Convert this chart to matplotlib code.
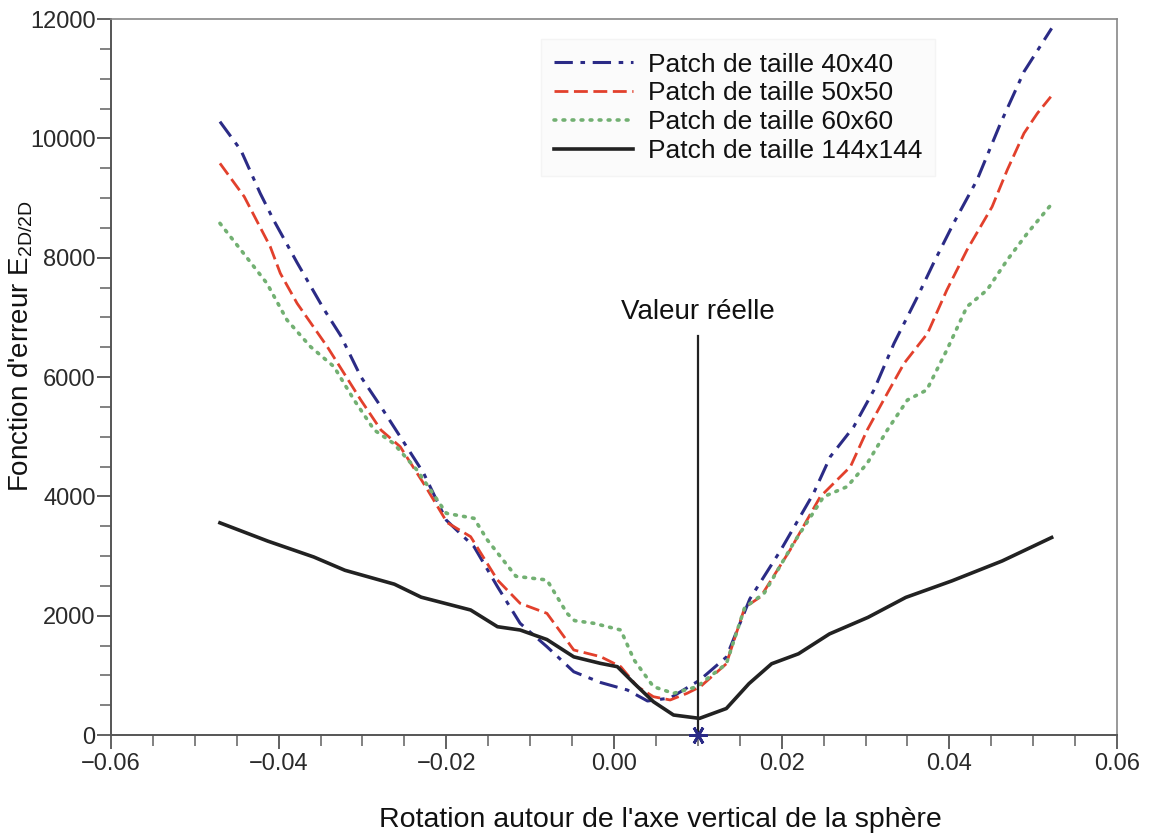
import matplotlib
matplotlib.use("Agg")
from matplotlib import pyplot as plt

plt.rcParams['font.family'] = ['Liberation Sans', 'DejaVu Sans']
plt.rcParams['mathtext.default'] = 'regular'

# courbes d'erreur relevees pour chaque taille de patch
x_40 = [-0.047, -0.0445, -0.0422, -0.0406, -0.0378, -0.0346, -0.0326, -0.0302, -0.0278, -0.0255,
        -0.0227, -0.020, -0.0167, -0.0139, -0.0112, -0.008, -0.0048, -0.0016, 0.0016, 0.004,
        0.0067, 0.0102, 0.0134, 0.0162, 0.0199, 0.0238, 0.0258, 0.0286, 0.031, 0.0334,
        0.0362, 0.0381, 0.0405, 0.0433, 0.0461, 0.0489, 0.0522]
y_40 = [10280, 9800, 9079, 8631, 7917, 7136, 6694, 6006, 5502, 5000,
        4386, 3600, 3157, 2486, 1872, 1480, 1060, 880, 754, 570,
        620, 917, 1306, 2280, 3101, 4050, 4665, 5168, 5782, 6564,
        7346, 7905, 8576, 9302, 10252, 11117, 11844]

x_50 = [-0.047, -0.0441, -0.041, -0.0398, -0.0378, -0.0342, -0.0322, -0.0302, -0.0278, -0.0255,
        -0.0225, -0.0199, -0.0171, -0.0139, -0.0112, -0.008, -0.0048, -0.0016, 0.0008, 0.0028,
        0.0047, 0.0067, 0.0087, 0.0103, 0.0134, 0.0156, 0.0175, 0.021, 0.0246, 0.0282,
        0.0302, 0.0326, 0.0346, 0.0374, 0.0397, 0.0421, 0.0451, 0.0469, 0.0489, 0.0505, 0.0521]
y_50 = [9581, 9022, 8184, 7738, 7235, 6508, 6062, 5615, 5112, 4832,
        4170, 3560, 3324, 2598, 2207, 2039, 1425, 1313, 1145, 810,
        642, 587, 698, 810, 1194, 2139, 2318, 3101, 3994, 4497,
        5112, 5727, 6229, 6732, 7458, 8129, 8854, 9469, 10085, 10420, 10698]

x_60 = [-0.047, -0.0445, -0.0414, -0.039, -0.0362, -0.0334, -0.031, -0.0286, -0.0263, -0.0235,
        -0.020, -0.0167, -0.0151, -0.0117, -0.008, -0.0056, -0.0047, -0.0024, 0.0008, 0.0024,
        0.0047, 0.0071, 0.0099, 0.0134, 0.0156, 0.0179, 0.0214, 0.025, 0.0278, 0.0302,
        0.0326, 0.035, 0.0373, 0.0397, 0.0421, 0.0445, 0.0469, 0.0493, 0.0521]
y_60 = [8576, 8129, 7570, 6955, 6508, 6173, 5615, 5112, 4888, 4441,
        3716, 3632, 3268, 2660, 2598, 2039, 1917, 1872, 1760, 1257,
        810, 698, 810, 1194, 2139, 2374, 3212, 3994, 4162, 4553,
        5112, 5615, 5782, 6453, 7179, 7458, 7961, 8409, 8883]

x_144 = [-0.047, -0.0413, -0.0358, -0.0321, -0.0262, -0.023, -0.0171, -0.0139, -0.0112, -0.008,
         -0.0048, -0.0016, 0.0004, 0.0024, 0.0047, 0.0071, 0.0102, 0.0134, 0.0161, 0.0188,
         0.022, 0.0257, 0.0303, 0.0348, 0.0403, 0.0463, 0.0522]
y_144 = [3556, 3250, 2983, 2761, 2528, 2310, 2095, 1815, 1760, 1600,
         1310, 1200, 1145, 866, 558, 335, 279, 444, 861, 1194,
         1361, 1694, 1972, 2306, 2583, 2917, 3310]

labels = ['Patch de taille 40x40', 'Patch de taille 50x50',
          'Patch de taille 60x60', 'Patch de taille 144x144']

x_true = 0.01
y_true_top = 6680

fig = plt.figure(figsize=(11.51, 8.34), dpi=100)
ax = fig.add_axes([0.0964, 0.1187, 0.8741, 0.8585])

ax.plot(x_40, y_40, color='#2b2b86', lw=2.2, dashes=(6, 2.5, 1.5, 2.5), label=labels[0])
ax.plot(x_50, y_50, color='#e2402c', lw=2.0, dashes=(5, 2), label=labels[1])
ax.plot(x_60, y_60, color='#72b072', lw=2.6, dashes=(0.5, 2.0), dash_capstyle='round', label=labels[2])
ax.plot(x_144, y_144, color='#222222', lw=2.6, label=labels[3])

# valeur reelle de la rotation
ax.plot([x_true, x_true], [0, y_true_top], color='#222222', lw=1.6)
ax.plot([x_true], [0], marker=(6, 2, 90), ms=13, mew=2, color='#2b2b86', clip_on=False, zorder=5)
ax.text(x_true, 6880, 'Valeur réelle', ha='center', va='bottom', fontsize=20, color='#111111')

ax.set_xlim(-0.06, 0.06)
ax.set_ylim(0, 12000)
ax.set_xticks([-0.06, -0.04, -0.02, 0.0, 0.02, 0.04, 0.06])
ax.set_xticklabels(['\u22120.06', '\u22120.04', '\u22120.02', '0.00', '0.02', '0.04', '0.06'])
ax.set_yticks([0, 2000, 4000, 6000, 8000, 10000, 12000])
ax.set_xticks([i * 0.005 - 0.06 for i in range(25)], minor=True)
ax.set_yticks([i * 500 for i in range(25)], minor=True)

ax.tick_params(which='major', direction='out', length=10, width=1.3, color='#555555',
               labelsize=17, labelcolor='#2a2a2a')
ax.tick_params(which='minor', direction='out', length=8, width=1.3, color='#777777')
ax.tick_params(axis='y', pad=1)
ax.tick_params(axis='x', pad=3)

for side in ['left', 'bottom']:
    ax.spines[side].set_color('#555555')
    ax.spines[side].set_linewidth(1.4)
for side in ['top', 'right']:
    ax.spines[side].set_color('#888888')
    ax.spines[side].set_linewidth(1.2)

ax.set_xlabel("Rotation autour de l'axe vertical de la sphère", fontsize=20.5, color='#111111')
ax.xaxis.set_label_coords(0.546, -0.100)
ax.set_ylabel("Fonction d'erreur E$_{2D/2D}$", fontsize=20, color='#111111')
ax.yaxis.set_label_coords(-0.075, 0.543)

leg = ax.legend(loc='upper left', bbox_to_anchor=(0.414, 0.99), fontsize=19,
                handlelength=3.0, handletextpad=0.55, labelspacing=0.18,
                frameon=True, fancybox=False, facecolor='#fbfbfb', edgecolor='#f2f2f2',
                borderpad=0.5)
for t in leg.get_texts():
    t.set_color('#111111')

fig.savefig('out.png', dpi=100)
